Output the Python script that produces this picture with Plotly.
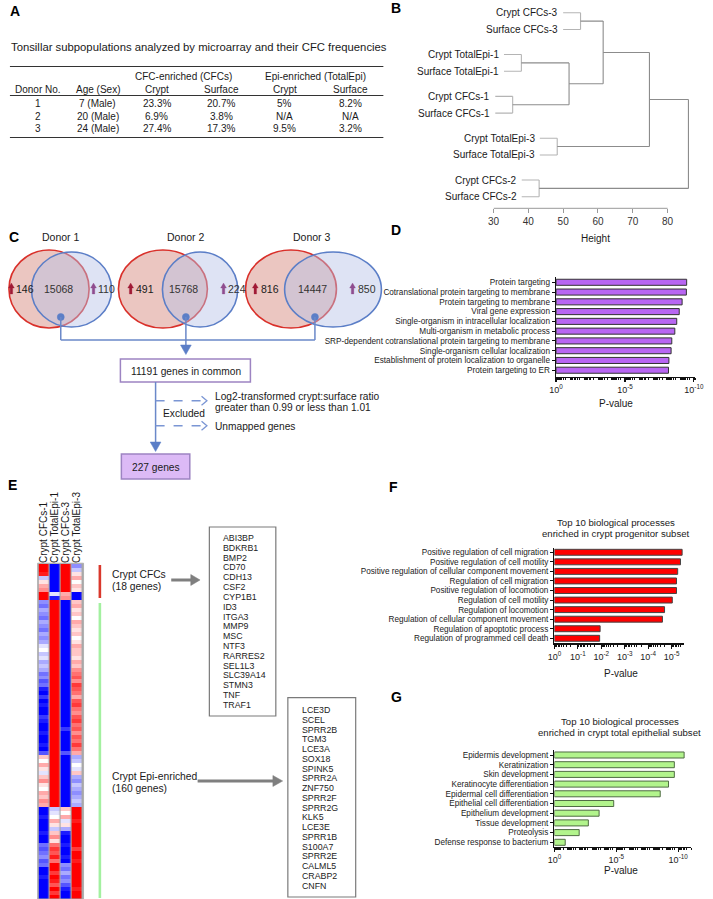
import math
import plotly.graph_objects as go

W, H = 713, 899
FONT = "Liberation Sans, Arial, Helvetica, sans-serif"


def X(px):
    return px / W


def Y(py):
    return 1 - py / H


# ======================= DATA =======================
table_title = "Tonsillar subpopulations analyzed by microarray and their CFC frequencies"
group_headers = ["CFC-enriched (CFCs)", "Epi-enriched (TotalEpi)"]
col_headers = ["Donor No.", "Age (Sex)", "Crypt", "Surface", "Crypt", "Surface"]
donor_no = ["1", "2", "3"]
age_sex = ["7 (Male)", "20 (Male)", "24 (Male)"]
cfc_crypt = ["23.3%", "6.9%", "27.4%"]
cfc_surface = ["20.7%", "3.8%", "17.3%"]
epi_crypt = ["5%", "N/A", "9.5%"]
epi_surface = ["8.2%", "N/A", "3.2%"]

leaf_labels = ["Crypt CFCs-3", "Surface CFCs-3", "Crypt TotalEpi-1", "Surface TotalEpi-1",
               "Crypt CFCs-1", "Surface CFCs-1", "Crypt TotalEpi-3", "Surface TotalEpi-3",
               "Crypt CFCs-2", "Surface CFCs-2"]
merge_pairs = [(0, 1), (2, 3), (4, 5), (11, 12), (10, 13), (6, 7), (14, 15), (8, 9), (16, 17)]
merge_heights = [55.0, 38.0, 35.5, 51.7, 61.5, 48.3, 74.8, 43.1, 86.0]
height_ticks = [30, 40, 50, 60, 70, 80]

donors = ["Donor 1", "Donor 2", "Donor 3"]
crypt_up = [146, 491, 816]
shared = [15068, 15768, 14447]
surface_up = [110, 224, 850]
common_genes = 11191
final_genes = 227

d_terms = ["Protein targeting", "Cotranslational protein targeting to membrane",
           "Protein targeting to membrane", "Viral gene expression",
           "Single-organism in intracellular localization", "Multi-organism in metabolic process",
           "SRP-dependent cotranslational protein targeting to membrane",
           "Single-organism cellular localization",
           "Establishment of protein localization to organelle", "Protein targeting to ER"]
d_neglog10p = [9.48, 9.46, 9.15, 8.94, 8.76, 8.62, 8.40, 8.35, 8.19, 8.16]

hm_columns = ["Crypt CFCs-1", "Crypt TotalEpi-1", "Crypt CFCs-3", "Crypt TotalEpi-3"]
hm_cfcs1 = [9, 9, 8, -2, 1, 3, 4, 9, 9,
            -4, -5, -3, -4, -5, -3, -4, -5, -3, -4, -3,
            -1, 0, -2, -1, -3, -2, -3, -5, -4, -6, -5,
            -8, -9, -7, -9, -8, -9, -9, -7, -8, -9, -9, -8, -9, -9, -8, -9, -6,
            2, 0, 3, 1, -1, 2, 4, 1, 0, 3, 2, 4, 3,
            -9, -9, -8, -9, -9, -9, -8, -9, -9,
            -5, -6, -5, -4, -6, -5,
            -9, -9, -8, -9, -9, -9, -9, -9]
hm_totalepi1 = [-9, -9, -9, -9, -9, -9, -9, -1, -8,
                9, 9, 9, 9, 9, 9, 9, 9, 9, 9, 9, 9, 9,
                9, 9, 9, 9, 9, 9, 9, 9, 9, 9, 9, 9, 9,
                9, 9, 9, 9, 9, 9, 9, 9, 9, 9, 9, 9, 9,
                9, 9, 9, 9, 9, 9, 9, 9, 9, 9, 9, 9, 9,
                -2, -1, 0, 3, 1, -2, 2, 4, 1,
                5, 7, 6, 8, 5, 9, 9, 7, 9, 8, 6, 9, 7, 9]
hm_cfcs3 = [9, 9, 9, 9, 9, 9, 9, 3, 4,
            -9, -9, -9, -9, -9, -9, -9, -9, -9, -9, -9, -9, -9,
            -9, -9, -9, -9, -9, -9, -9, -9, -9, -9, -9, -9, -9,
            -9, -9, -9, -9, -9, -9, -7, -9, -9, -9, -9, -9, -6,
            -9, -9, -9, -9, -9, -9, -9, -9, -9, -9, -9, -9, -9,
            2, 0, 3, -1, 1, -3,
            -8, -9, -9, -8, -9, -9, -8, -9,
            -4, -5, -3, -5, -4, -6,
            -8, -9, -9]
hm_totalepi3 = [-4, -2, 1, 3, 0, 2, 1, -9, -9,
                2, 3, 1, 2, 0, 3, 2, 1, 2, 0, 1, 3, 2, 2, 1, 3, 2, 4,
                5, 6, 4, 7, 6, 5, 3, 6, 7, 5, 4, 6, 7, 5, 6, 4, 6, 5, 7, 5, 3,
                -3, -2, 0, -1, 2, -3, -4, -2, -3, -4, -3, -2, -3,
                9, 9, 9, 8, 9, 9, 9, 9, 9, 9, 7, 9, 9, 8, 9, 9, 9, 9, 9, 9, 8, 9, 9]
cfc_group_label = ["Crypt CFCs", "(18 genes)"]
epi_group_label = ["Crypt Epi-enriched", "(160 genes)"]
cfc_genes = ["ABI3BP", "BDKRB1", "BMP2", "CD70", "CDH13", "CSF2", "CYP1B1", "ID3", "ITGA3",
             "MMP9", "MSC", "NTF3", "RARRES2", "SEL1L3", "SLC39A14", "STMN3", "TNF", "TRAF1"]
epi_genes = ["LCE3D", "SCEL", "SPRR2B", "TGM3", "LCE3A", "SOX18", "SPINK5", "SPRR2A", "ZNF750",
             "SPRR2F", "SPRR2G", "KLK5", "LCE3E", "SPRR1B", "S100A7", "SPRR2E", "CALML5",
             "CRABP2", "CNFN"]

f_terms = ["Positive regulation of cell migration", "Positive regulation of cell motility",
           "Positive regulation of cellular component movement", "Regulation of cell migration",
           "Positive regulation of locomotion", "Regulation of cell motility",
           "Regulation of locomotion", "Regulation of cellular component movement",
           "Regulation of apoptotic process", "Regulation of programmed cell death"]
f_neglog10p = [5.45, 5.38, 5.26, 5.21, 5.21, 5.03, 4.70, 4.61, 1.95, 1.93]

g_terms = ["Epidermis development", "Keratinization", "Skin development",
           "Keratinocyte differentiation", "Epidermal cell differentiation",
           "Epithelial cell differentiation", "Epithelium development", "Tissue development",
           "Proteolysis", "Defense response to bacterium"]
g_neglog10p = [10.48, 9.69, 9.69, 9.22, 8.55, 4.79, 3.61, 2.74, 2.00, 0.87]

# ======================= HELPERS =======================
shapes = []
annotations = []


def txt(x, y, text, size=9.5, xanchor="center", yanchor="middle", color="#1a1a1a", **kw):
    annotations.append(dict(x=X(x), y=Y(y), xref="paper", yref="paper", text=text,
                            showarrow=False, xanchor=xanchor, yanchor=yanchor,
                            font=dict(size=size, color=color, family=FONT), **kw))


def line(x0, y0, x1, y1, color="#333", width=1.0, dash=None):
    shapes.append(dict(type="line", xref="paper", yref="paper", x0=X(x0), y0=Y(y0),
                       x1=X(x1), y1=Y(y1), line=dict(color=color, width=width, dash=dash)))


def rect(x0, y0, x1, y1, color="#333", width=1.0, fill="rgba(0,0,0,0)", layer="above"):
    shapes.append(dict(type="rect", xref="paper", yref="paper", x0=X(x0), y0=Y(y1),
                       x1=X(x1), y1=Y(y0), line=dict(color=color, width=width),
                       fillcolor=fill, layer=layer))


def poly(points, color, width=0.5, fill=True):
    path = "M " + " L ".join(f"{X(a):.5f},{Y(b):.5f}" for a, b in points) + (" Z" if fill else "")
    shapes.append(dict(type="path", xref="paper", yref="paper", path=path,
                       fillcolor=color if fill else "rgba(0,0,0,0)",
                       line=dict(color=color, width=width)))


def ellipse(x0, y0, x1, y1, line_color, fill, width=1.6):
    shapes.append(dict(type="circle", xref="paper", yref="paper", x0=X(x0), x1=X(x1),
                       y0=Y(y1), y1=Y(y0), fillcolor=fill,
                       line=dict(color=line_color, width=width)))


def panel_letter(x, y, s):
    txt(x, y, f"<b>{s}</b>", size=14, color="#000")


def up_arrow(xc, y, color):
    # small block arrow glyph drawn as a filled polygon
    poly([(xc - 1.3, y + 5), (xc + 1.3, y + 5), (xc + 1.3, y - 1), (xc + 3, y - 1),
          (xc, y - 6), (xc - 3, y - 1), (xc - 1.3, y - 1)], color, 0.3)


fig = go.Figure()

# ======================= A =======================
panel_letter(8, 11, "A")
txt(2, 47, table_title, size=11.3, xanchor="left")
line(3, 66.5, 385, 66.5, "#333", 1.2)
line(3, 95.5, 385, 95.5, "#333", 1.2)
line(3, 137.5, 385, 137.5, "#333", 1.2)
txt(181, 77, group_headers[0], size=10)
txt(316, 77, group_headers[1], size=10)
col_x = [32, 93, 153, 219, 284, 351]
for cx, h in zip(col_x, col_headers):
    txt(cx, 89.5, h, size=10)
row_y = [104, 116.5, 129]
for i in range(3):
    vals = [donor_no[i], age_sex[i], cfc_crypt[i], cfc_surface[i], epi_crypt[i], epi_surface[i]]
    for cx, v in zip(col_x, vals):
        txt(cx, row_y[i], v, size=10)

# ======================= B =======================
panel_letter(398, 8, "B")
hang = 5.0
pos = [i + (i // 2) * 0.5 for i in range(len(leaf_labels))]
node_y = list(pos)
node_h = [None] * len(leaf_labels)
parent_h = {}
for (a, b), h in zip(merge_pairs, merge_heights):
    parent_h[a] = h
    parent_h[b] = h
for i in range(len(leaf_labels)):
    node_h[i] = parent_h[i] - hang

leaf_x, leaf_y, int_x, int_y = [], [], [], []
for (a, b), h in zip(merge_pairs, merge_heights):
    ya, yb = node_y[a], node_y[b]
    for c in (a, b):
        tx = leaf_x if c < len(leaf_labels) else int_x
        ty = leaf_y if c < len(leaf_labels) else int_y
        tx += [node_h[c], h, None]
        ty += [node_y[c], node_y[c], None]
    both_leaves = a < len(leaf_labels) and b < len(leaf_labels)
    tgt_x = leaf_x if both_leaves else int_x
    tgt_y = leaf_y if both_leaves else int_y
    tgt_x += [h, h, None]
    tgt_y += [ya, yb, None]
    node_y.append((ya + yb) / 2)
    node_h.append(h)

fig.add_trace(go.Scatter(x=leaf_x, y=leaf_y, mode="lines", line=dict(color="#b4b4b4", width=1.1),
                         xaxis="x", yaxis="y", hoverinfo="skip"))
fig.add_trace(go.Scatter(x=int_x, y=int_y, mode="lines", line=dict(color="#8c8c8c", width=1.1),
                         xaxis="x", yaxis="y", hoverinfo="skip"))
for i, lab in enumerate(leaf_labels):
    annotations.append(dict(x=node_h[i], y=pos[i], xref="x", yref="y", text=lab,
                            showarrow=False, xanchor="right", yanchor="middle", xshift=-3,
                            font=dict(size=10, color="#1a1a1a", family=FONT)))
shapes.append(dict(type="line", xref="x", yref="paper", x0=height_ticks[0], x1=height_ticks[-1],
                   y0=Y(208.3), y1=Y(208.3), line=dict(color="#999", width=1)))
txt(602, 238.5, "Height", size=10)

# ======================= C =======================
panel_letter(7, 237, "C")
red_x = [(2, 84), (114, 205), (244, 337)]
blue_x = [(25, 107), (159, 236), (284, 383)]
donor_cx = [55, 183, 312]
dot_x = [55, 183, 315]
arrow_l = [4.5, 126.5, 254]
num_l = [7.5, 130, 258]
arrow_r = [88.5, 221.5, 353.5]
num_r = [91, 224.5, 357]
red_line = "#d9302a"
blue_line = "#5b7ec7"
for k in range(3):
    txt(donor_cx[k], 237, donors[k], size=10.5)
    ellipse(red_x[k][0], 250, red_x[k][1], 328, red_line, "rgba(214,135,125,0.48)")
for k in range(3):
    ellipse(blue_x[k][0], 252, blue_x[k][1], 327, blue_line, "rgba(182,193,230,0.45)")
for k in range(3):
    shapes.append(dict(type="circle", xref="paper", yref="paper", x0=X(dot_x[k] - 3.6),
                       x1=X(dot_x[k] + 3.6), y0=Y(320.6), y1=Y(313.4),
                       fillcolor=blue_line, line=dict(color=blue_line, width=0.5)))
    up_arrow(arrow_l[k], 289, "#a01a35")
    up_arrow(arrow_r[k], 289, "#8f4d8f")
    txt(num_l[k], 289.5, f"{crypt_up[k]}", size=10.5, xanchor="left")
    txt(dot_x[k] - 2, 289.5, f"{shared[k]}", size=10.5, color="#333")
    txt(num_r[k], 289.5, f"{surface_up[k]}", size=10.5, xanchor="left", color="#333")

flow = "#6a88c9"
for k in range(3):
    line(dot_x[k], 317, dot_x[k], 340, flow, 1.5)
line(dot_x[0], 340, dot_x[2], 340, flow, 1.5)
line(183, 340, 183, 346, flow, 1.5)
poly([(177.5, 345), (188.5, 345), (183, 354.5)], "#5b7ec7")
rect(116, 359, 249, 382, "#9d84c2", 1.5, "white")
txt(183, 371, f"{common_genes} genes in common", size=10.2)
line(152, 382, 152, 443, flow, 1.5)
poly([(146.5, 442), (157.5, 442), (152, 451.5)], "#5b7ec7")
rect(117, 454, 187, 479, "#9d84c2", 1.5, "#dcbaf6")
txt(152, 467, f"{final_genes} genes", size=10.2)
for yy in (400.7, 425.7):
    line(152, yy, 203, yy, "#7b96d4", 1.4, "dash")
    poly([(199, yy - 4.5), (204.5, yy), (199, yy + 4.5)], "#7b96d4", 1.3, fill=False)
txt(158, 413.5, "Excluded", size=10.2, xanchor="left")
txt(211, 396.5, "Log2-transformed crypt:surface ratio", size=10.2, xanchor="left")
txt(211, 408, "greater than 0.99 or less than 1.01", size=10.2, xanchor="left")
txt(211, 426, "Unmapped genes", size=10.2, xanchor="left")

# ======================= D =======================
panel_letter(398, 230, "D")
fig.add_trace(go.Bar(x=d_neglog10p, y=d_terms, orientation="h", width=0.62,
                     marker=dict(color="#b866f2", line=dict(color="#333", width=1)),
                     xaxis="x2", yaxis="y2", hoverinfo="skip"))
txt(623, 403, "P-value", size=10)

# ======================= E =======================
panel_letter(6, 485, "E")
rect(31.3, 563.2, 78.3, 899, "#a8a8a8", 0.8, "#a8a8a8", layer="below")
z = [list(r) for r in zip(hm_cfcs1, hm_totalepi1, hm_cfcs3, hm_totalepi3)]
fig.add_trace(go.Heatmap(z=z, x=list(range(4)), y=list(range(len(z))),
                         colorscale=[[0, "#0000ff"], [0.5, "#ffffff"], [1, "#ff0000"]],
                         zmin=-9, zmax=9, showscale=False, xgap=1.2, ygap=0,
                         xaxis="x5", yaxis="y5", hoverinfo="skip"))
line(95, 565, 95, 598, "#d9382c", 2.6)
line(95, 603, 95, 898, "#a3f0a0", 2.6)
txt(105, 574, cfc_group_label[0], size=10.3, xanchor="left")
txt(105, 586, cfc_group_label[1], size=10.3, xanchor="left")
txt(105, 776, epi_group_label[0], size=10.3, xanchor="left")
txt(105, 788, epi_group_label[1], size=10.3, xanchor="left")
line(168, 580, 190, 580, "#7f7f7f", 3)
poly([(188, 574.5), (197.5, 580), (188, 585.5)], "#7f7f7f")
line(195, 781, 273, 781, "#7f7f7f", 3)
poly([(272, 775.5), (282, 781), (272, 786.5)], "#7f7f7f")
rect(207, 527, 275, 716, "#7a7a7a", 1.2, "white")
for i, g in enumerate(cfc_genes):
    txt(219, 538 + i * 9.82, g, size=8.8, xanchor="left", color="#222")
rect(287.3, 697.7, 356.7, 897, "#7a7a7a", 1.2, "white")
for i, g in enumerate(epi_genes):
    txt(299.3, 710 + i * 9.76, g, size=8.8, xanchor="left", color="#222")

# ======================= F =======================
panel_letter(395, 487, "F")
txt(623, 522, "Top 10 biological processes", size=9.6)
txt(623, 533, "enriched in crypt progenitor subset", size=9.6)
fig.add_trace(go.Bar(x=f_neglog10p, y=f_terms, orientation="h", width=0.62,
                     marker=dict(color="#ff0000", line=dict(color="#444", width=1)),
                     xaxis="x3", yaxis="y3", hoverinfo="skip"))
txt(628, 673, "P-value", size=10)

# ======================= G =======================
panel_letter(398, 697, "G")
txt(627, 721, "Top 10 biological processes", size=9.6)
txt(627, 732.5, "enriched in crypt total epithelial subset", size=9.6)
fig.add_trace(go.Bar(x=g_neglog10p, y=g_terms, orientation="h", width=0.62,
                     marker=dict(color="#b2f48c", line=dict(color="#4f6b43", width=1)),
                     xaxis="x4", yaxis="y4", hoverinfo="skip"))
txt(628, 870, "P-value", size=10)


def minor_vals(maxv):
    out = []
    for d in range(int(maxv) + 1):
        for k in range(2, 10):
            v = d + 1 - math.log10(k)
            if v <= maxv:
                out.append(v)
    return out


def pval_xaxis(d0, d1, rmax, majors, anchor):
    return dict(domain=[X(d0), X(d1)], range=[0, rmax], anchor=anchor,
                showline=True, linecolor="#111", linewidth=1.5, showgrid=False, zeroline=False,
                ticks="outside", ticklen=4, tickwidth=1.2, tickcolor="#111",
                tickmode="array", tickvals=majors,
                ticktext=[f"10<sup>{'-' if m else ''}{m}</sup>" for m in majors],
                tickfont=dict(size=9, color="#222", family=FONT),
                minor=dict(tickvals=minor_vals(rmax), ticks="outside", ticklen=2,
                           tickwidth=1, tickcolor="#111"))


def term_yaxis(top, bottom, first_c, slot, cats, anchor):
    return dict(domain=[Y(bottom), Y(top)], anchor=anchor, type="category",
                categoryorder="array", categoryarray=cats,
                tickmode="array", tickvals=cats, ticktext=cats,
                range=[(bottom - first_c) / slot, -0.5],
                showline=True, linecolor="#111", linewidth=1.5, showgrid=False, zeroline=False,
                ticks="outside", ticklen=3, tickwidth=1, tickcolor="#111",
                tickfont=dict(size=8.2, color="#222", family=FONT))


layout = dict(
    width=W, height=H, autosize=False, margin=dict(l=0, r=0, t=0, b=0, pad=0),
    paper_bgcolor="white", plot_bgcolor="rgba(0,0,0,0)", showlegend=False,
    hovermode=False, font=dict(family=FONT, color="#222"),
    xaxis=dict(domain=[X(497.7), X(704.2)], range=[30, 88], anchor="y", showline=False,
               showgrid=False, zeroline=False, ticks="outside", ticklen=4, tickcolor="#999",
               tickvals=height_ticks, tickfont=dict(size=10, color="#333", family=FONT)),
    yaxis=dict(domain=[Y(208.3), 1], range=[11.69, -0.76], visible=False, anchor="x"),
    xaxis2=pval_xaxis(561.7, 704, 10.1, [0, 5, 10], "y2"),
    yaxis2=term_yaxis(277.4, 376.7, 282.3, 9.77, d_terms, "x2"),
    xaxis3=pval_xaxis(560, 692.3, 5.52, [0, 1, 2, 3, 4, 5], "y3"),
    yaxis3=term_yaxis(547.5, 643.3, 552.3, 9.556, f_terms, "x3"),
    xaxis4=pval_xaxis(560, 700, 11.06, [0, 5, 10], "y4"),
    yaxis4=term_yaxis(750.15, 846.7, 755, 9.7, g_terms, "x4"),
    xaxis5=dict(domain=[X(32.3), X(77.3)], range=[-0.5, 3.5], anchor="y5", side="top",
                tickvals=list(range(4)), ticktext=hm_columns, tickangle=-90, ticks="",
                showline=False, showgrid=False, zeroline=False,
                tickfont=dict(size=10, color="#1a1a1a", family=FONT)),
    yaxis5=dict(domain=[Y(898.5), Y(564)], range=[len(z) - 0.5, -0.5], visible=False,
                anchor="x5"),
    shapes=shapes,
    annotations=annotations,
)
fig.update_layout(**layout)
fig.write_html("out.html",
               config={"displayModeBar": False, "staticPlot": True, "responsive": False},
               post_script="document.body.style.margin='0';document.body.style.padding='0';"
                           "document.documentElement.style.overflow='hidden';")
